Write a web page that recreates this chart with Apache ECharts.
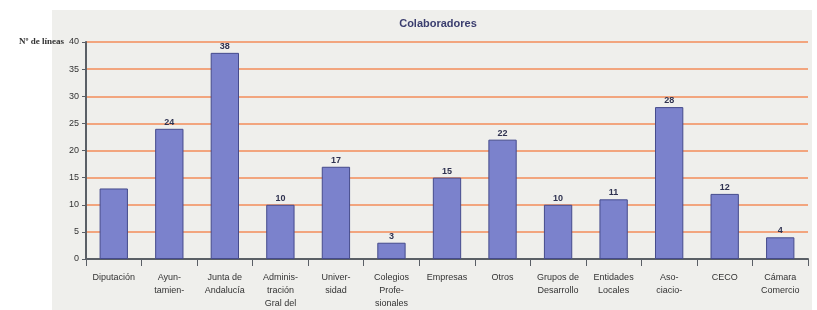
<!DOCTYPE html>
<html lang="es">
<head>
    <meta charset="UTF-8">
    <title>Colaboradores</title>
    <script src="https://cdn.jsdelivr.net/npm/echarts@6/dist/echarts.min.js"></script>
    <style>
        html, body { margin: 0; padding: 0; background: #fff; }
    </style>
</head>
<body>
    <div id="chart" style="width:817px; height:310px"></div>
    <script>
        // categorias (con cortes de linea como en el original)
        const categorias = [
            'Diputación', 'Ayun-\ntamien-', 'Junta de\nAndalucía', 'Adminis-\ntración\nGral del',
            'Univer-\nsidad', 'Colegios\nProfe-\nsionales', 'Empresas', 'Otros',
            'Grupos de\nDesarrollo', 'Entidades\nLocales', 'Aso-\nciacio-', 'CECO', 'Cámara\nComercio'
        ];
        const valores = [13, 24, 38, 10, 17, 3, 15, 22, 10, 11, 28, 12, 4];
        const ticksY = [0, 5, 10, 15, 20, 25, 30, 35, 40];

        const chart = echarts.init(document.getElementById('chart'));

        chart.setOption({
            animation: false,
            graphic: [{
                type: 'rect',
                left: 52, top: 10,
                shape: { width: 760, height: 300 },
                style: { fill: '#efefec' },
                z: -10
            }],
            title: {
                text: 'Colaboradores',
                left: 433, top: 13,
                textAlign: 'center',
                textStyle: { fontFamily: 'Liberation Sans', fontSize: 11, fontWeight: 'bold', color: '#3a3d6e' }
            },
            grid: { left: 86, right: 9, top: 42, bottom: 51, containLabel: false },
            xAxis: {
                type: 'category',
                data: categorias,
                axisLine: { lineStyle: { color: '#5a5f66', width: 2 } },
                axisTick: { show: true, length: 7, lineStyle: { color: '#5a5f66', width: 1 } },
                axisLabel: {
                    interval: 0, margin: 12,
                    fontFamily: 'Liberation Sans', fontSize: 9, lineHeight: 13, color: '#333'
                }
            },
            yAxis: {
                type: 'value',
                min: ticksY[0], max: ticksY[ticksY.length - 1], interval: 5,
                name: 'Nº de líneas',
                nameLocation: 'end',
                nameGap: 0,
                nameMoveOverlap: false,
                nameTextStyle: {
                    fontFamily: 'Liberation Serif', fontSize: 9, fontWeight: 'bold', color: '#333',
                    align: 'right', verticalAlign: 'middle', padding: [0, 22, 0, 0]
                },
                axisLine: { show: true, lineStyle: { color: '#5a5f66', width: 2 } },
                axisTick: { show: true, length: 4, lineStyle: { color: '#5a5f66' } },
                axisLabel: { fontFamily: 'Liberation Sans', fontSize: 9, color: '#333', margin: 7 },
                splitLine: { lineStyle: { color: '#f2a57e', width: 2 } }
            },
            series: [{
                type: 'bar',
                data: valores.map((v, i) => ({
                    value: v,
                    label: { show: i !== 0 }
                })),
                barWidth: '51%',
                itemStyle: { color: '#7b82cc', borderColor: '#454b8c', borderWidth: 1 },
                label: {
                    show: true, position: 'top', distance: 2,
                    fontFamily: 'Liberation Sans', fontSize: 9, fontWeight: 'bold', color: '#2f3250'
                }
            }]
        });
    </script>
</body>
</html>
